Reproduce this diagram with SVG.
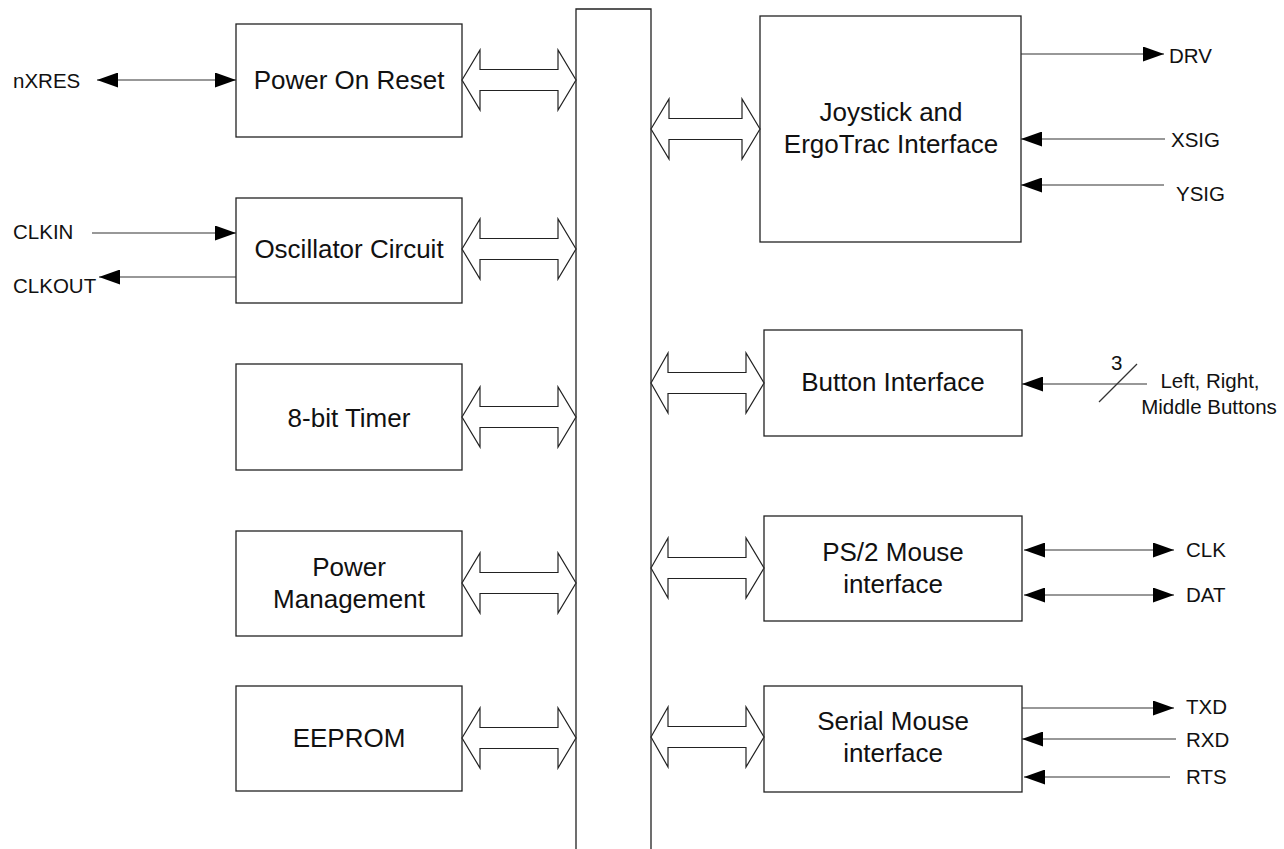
<svg xmlns="http://www.w3.org/2000/svg" width="1284" height="849" viewBox="0 0 1284 849">
<style>
.box{fill:#fff;stroke:#222;stroke-width:1.3}
.bus{fill:none;stroke:#222;stroke-width:1.3}
.blk{fill:#fff;stroke:#222;stroke-width:1.2;stroke-linejoin:miter}
.sig{fill:none;stroke:#333;stroke-width:1.2}
.t{font-family:"Liberation Sans",Arial,sans-serif;font-size:26px;fill:#111;text-anchor:middle}
.s{font-family:"Liberation Sans",Arial,sans-serif;font-size:20.5px;fill:#111}
</style>
<defs>
<marker id="ah" markerUnits="userSpaceOnUse" markerWidth="21" markerHeight="15" refX="21" refY="7.5" orient="auto-start-reverse" viewBox="0 0 21 15">
<path d="M0,0 L21,7.5 L0,15 z" fill="#000"/>
</marker>
</defs>
<rect x="0" y="0" width="1284" height="849" fill="#fff"/>
<g id="bus"><path class="bus" d="M576,860 V9 H651 V860"/></g>
<g id="power-on-reset"><rect class="box" x="236" y="24" width="226" height="113"/><text class="t" x="349" y="89">Power On Reset</text></g>
<g id="oscillator"><rect class="box" x="236" y="198" width="226" height="105"/><text class="t" x="349" y="258">Oscillator Circuit</text></g>
<g id="timer"><rect class="box" x="236" y="364" width="226" height="106"/><text class="t" x="349" y="427">8-bit Timer</text></g>
<g id="power-mgmt"><rect class="box" x="236" y="531" width="226" height="105"/><text class="t" x="349" y="576">Power</text><text class="t" x="349" y="608">Management</text></g>
<g id="eeprom"><rect class="box" x="236" y="686" width="226" height="105"/><text class="t" x="349" y="747">EEPROM</text></g>
<g id="joystick"><rect class="box" x="760" y="16" width="261" height="226"/><text class="t" x="891" y="121">Joystick and</text><text class="t" x="891" y="153">ErgoTrac Interface</text></g>
<g id="button"><rect class="box" x="764" y="330" width="258" height="106"/><text class="t" x="893" y="391">Button Interface</text></g>
<g id="ps2"><rect class="box" x="764" y="516" width="258" height="105"/><text class="t" x="893" y="561">PS/2 Mouse</text><text class="t" x="893" y="593">interface</text></g>
<g id="serial"><rect class="box" x="764" y="686" width="258" height="106"/><text class="t" x="893" y="730">Serial Mouse</text><text class="t" x="893" y="762">interface</text></g>
<g id="connectors">
<polygon class="blk" points="462,80 480,50 480,69.5 558,69.5 558,50 576,80 558,110 558,90.5 480,90.5 480,110"/>
<polygon class="blk" points="462,249 480,219 480,238.5 558,238.5 558,219 576,249 558,279 558,259.5 480,259.5 480,279"/>
<polygon class="blk" points="462,417 480,387 480,406.5 558,406.5 558,387 576,417 558,447 558,427.5 480,427.5 480,447"/>
<polygon class="blk" points="462,583 480,553 480,572.5 558,572.5 558,553 576,583 558,613 558,593.5 480,593.5 480,613"/>
<polygon class="blk" points="462,738 480,708 480,727.5 558,727.5 558,708 576,738 558,768 558,748.5 480,748.5 480,768"/>
<polygon class="blk" points="651,129 669,99 669,118.5 742,118.5 742,99 760,129 742,159 742,139.5 669,139.5 669,159"/>
<polygon class="blk" points="651,383 668,353 668,372.5 746,372.5 746,353 764,383 746,413 746,393.5 668,393.5 668,413"/>
<polygon class="blk" points="651,568 668,538 668,557.5 746,557.5 746,538 764,568 746,598 746,578.5 668,578.5 668,598"/>
<polygon class="blk" points="651,737 668,707 668,726.5 746,726.5 746,707 764,737 746,767 746,747.5 668,747.5 668,767"/>
<line class="sig" x1="97" y1="80" x2="236" y2="80" marker-start="url(#ah)" marker-end="url(#ah)"/>
<line class="sig" x1="92" y1="233" x2="236" y2="233" marker-end="url(#ah)"/>
<line class="sig" x1="236" y1="277" x2="99" y2="277" marker-end="url(#ah)"/>
<line class="sig" x1="1021" y1="54" x2="1164" y2="54" marker-end="url(#ah)"/>
<line class="sig" x1="1165" y1="139" x2="1021" y2="139" marker-end="url(#ah)"/>
<line class="sig" x1="1164" y1="185" x2="1021" y2="185" marker-end="url(#ah)"/>
<line class="sig" x1="1147" y1="384" x2="1022" y2="384" marker-end="url(#ah)"/>
<line class="sig" x1="1099" y1="402" x2="1137" y2="364"/>
<line class="sig" x1="1024" y1="550" x2="1174" y2="550" marker-start="url(#ah)" marker-end="url(#ah)"/>
<line class="sig" x1="1024" y1="595" x2="1174" y2="595" marker-start="url(#ah)" marker-end="url(#ah)"/>
<line class="sig" x1="1022" y1="708" x2="1174" y2="708" marker-end="url(#ah)"/>
<line class="sig" x1="1176" y1="739" x2="1022" y2="739" marker-end="url(#ah)"/>
<line class="sig" x1="1170" y1="777" x2="1024" y2="777" marker-end="url(#ah)"/>
</g>
<g id="labels">
<text class="s" x="13" y="88">nXRES</text>
<text class="s" x="13" y="239">CLKIN</text>
<text class="s" x="13" y="293">CLKOUT</text>
<text class="s" x="1169" y="63">DRV</text>
<text class="s" x="1171" y="147">XSIG</text>
<text class="s" x="1176" y="201">YSIG</text>
<text class="s" x="1111" y="370">3</text>
<text class="s" x="1210" y="388" text-anchor="middle">Left, Right,</text>
<text class="s" x="1209" y="414" text-anchor="middle">Middle Buttons</text>
<text class="s" x="1186" y="557">CLK</text>
<text class="s" x="1186" y="602">DAT</text>
<text class="s" x="1186" y="714">TXD</text>
<text class="s" x="1186" y="747">RXD</text>
<text class="s" x="1186" y="784">RTS</text>
</g>
</svg>
